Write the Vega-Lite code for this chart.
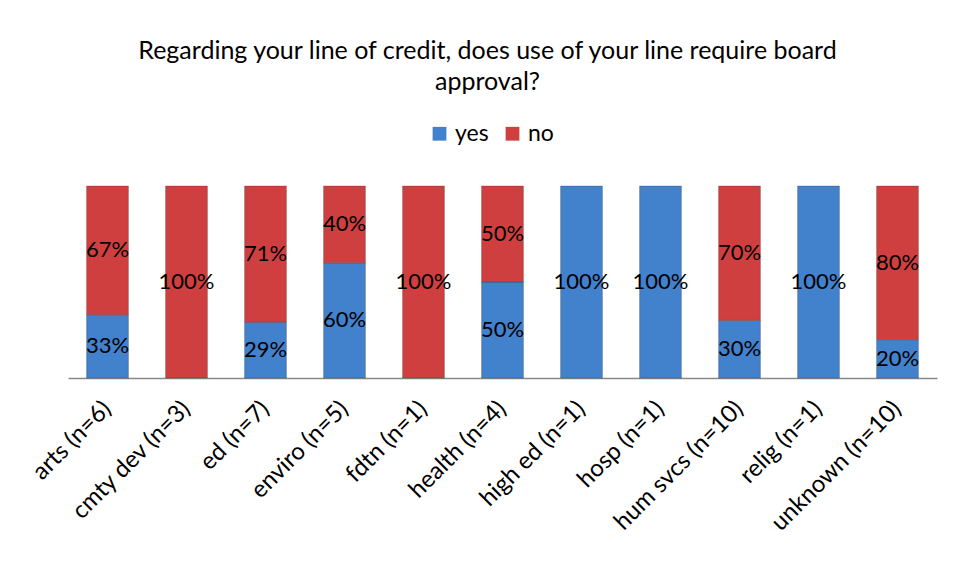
{
  "$schema": "https://vega.github.io/schema/vega-lite/v6.json",
  "width": 869,
  "height": 192,
  "autosize": {"type": "none"},
  "padding": {"left": 68, "top": 186, "right": 17, "bottom": 200},
  "background": "white",
  "title": {
    "text": ["Regarding your line of credit, does use of your line require board", "approval?"],
    "font": "Lato",
    "fontSize": 25,
    "fontWeight": "normal",
    "color": "#000000",
    "anchor": "middle",
    "dx": -15,
    "lineHeight": 31,
    "offset": 27
  },
  "config": {
    "view": {"stroke": null},
    "font": "Lato"
  },
  "data": {
    "values": [
      {"category": "arts (n=6)", "response": "yes", "value": 0.33},
      {"category": "arts (n=6)", "response": "no", "value": 0.67},
      {"category": "cmty dev (n=3)", "response": "no", "value": 1.0},
      {"category": "ed (n=7)", "response": "yes", "value": 0.29},
      {"category": "ed (n=7)", "response": "no", "value": 0.71},
      {"category": "enviro (n=5)", "response": "yes", "value": 0.60},
      {"category": "enviro (n=5)", "response": "no", "value": 0.40},
      {"category": "fdtn (n=1)", "response": "no", "value": 1.0},
      {"category": "health (n=4)", "response": "yes", "value": 0.50},
      {"category": "health (n=4)", "response": "no", "value": 0.50},
      {"category": "high ed (n=1)", "response": "yes", "value": 1.0},
      {"category": "hosp (n=1)", "response": "yes", "value": 1.0},
      {"category": "hum svcs (n=10)", "response": "yes", "value": 0.30},
      {"category": "hum svcs (n=10)", "response": "no", "value": 0.70},
      {"category": "relig (n=1)", "response": "yes", "value": 1.0},
      {"category": "unknown (n=10)", "response": "yes", "value": 0.20},
      {"category": "unknown (n=10)", "response": "no", "value": 0.80}
    ]
  },
  "transform": [
    {"stack": "value", "groupby": ["category"], "sort": [{"field": "response", "order": "descending"}], "as": ["v0", "v1"], "offset": "zero"},
    {"calculate": "(datum.v0 + datum.v1) / 2", "as": "mid"}
  ],
  "encoding": {
    "x": {
      "field": "category",
      "type": "nominal",
      "sort": null,
      "scale": {"paddingInner": 0.47, "paddingOuter": 0.235},
      "axis": {
        "title": null,
        "labelAngle": -45,
        "labelAlign": "right",
        "labelBaseline": "middle",
        "labelFontSize": 24,
        "labelColor": "#000000",
        "labelFont": "Lato",
        "labelPadding": 27,
        "ticks": false,
        "domainColor": "#888888",
        "domainWidth": 1.5,
        "labelOverlap": false
      }
    }
  },
  "layer": [
    {
      "mark": {"type": "bar", "stroke": "#2e2e2e", "strokeOpacity": 0.35, "strokeWidth": 0.8},
      "encoding": {
        "y": {"field": "v0", "type": "quantitative", "scale": {"domain": [0, 1]}, "axis": null},
        "y2": {"field": "v1"},
        "color": {
          "field": "response",
          "type": "nominal",
          "scale": {"domain": ["yes", "no"], "range": ["#4281cc", "#d03f3f"]},
          "legend": {
            "title": null,
            "orient": "none",
            "legendX": 360,
            "legendY": -64,
            "direction": "horizontal",
            "symbolType": "square",
            "symbolSize": 190,
            "symbolStrokeWidth": 0,
            "labelFontSize": 23,
            "labelFont": "Lato",
            "labelColor": "#000000",
            "columnPadding": 12
          }
        }
      }
    },
    {
      "mark": {"type": "text", "fontSize": 22, "font": "Lato", "color": "#000000", "baseline": "middle"},
      "encoding": {
        "y": {"field": "mid", "type": "quantitative"},
        "text": {"field": "value", "type": "quantitative", "format": ".0%"}
      }
    }
  ]
}
